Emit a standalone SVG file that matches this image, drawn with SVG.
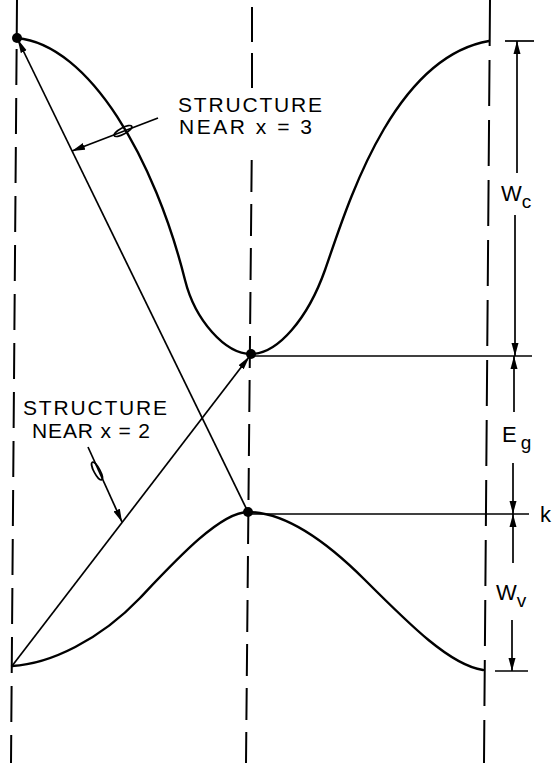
<svg xmlns="http://www.w3.org/2000/svg" width="553" height="763" viewBox="0 0 553 763">
<style>
.curve{fill:none;stroke:#000;stroke-width:2.4;stroke-linecap:round}
.thin{fill:none;stroke:#000;stroke-width:1.7}
.dash{fill:none;stroke:#000;stroke-width:2;stroke-dasharray:36 13}
.lbl{font-family:"Liberation Sans",Arial,sans-serif;font-size:21px;fill:#000}
.sym{font-family:"Liberation Sans",Arial,sans-serif;font-size:22px;fill:#000}
.sub{font-family:"Liberation Sans",Arial,sans-serif;font-size:19px;fill:#000}
</style>
<defs>
<marker id="ah" viewBox="0 0 14 8" refX="13" refY="4" markerWidth="14" markerHeight="8" markerUnits="userSpaceOnUse" orient="auto">
<path d="M0,0.8 L14,4 L0,7.2 Z" fill="#000"/>
</marker>
<marker id="dh" viewBox="0 0 13 8" refX="13" refY="4" markerWidth="13" markerHeight="8" markerUnits="userSpaceOnUse" orient="auto">
<path d="M0,0.5 L13,4 L0,7.5 Z" fill="#000"/>
</marker>
</defs>
<rect width="553" height="763" fill="#fff"/>
<g id="axes">
<line class="dash" x1="17" y1="0" x2="11" y2="763"/>
<path class="thin" style="stroke-width:2" d="M252,7 L252,42 M252,53 L252,88"/>
<line class="dash" x1="251.7" y1="160" x2="246" y2="763" style="stroke-dasharray:32 12"/>
<line class="dash" x1="490" y1="0" x2="484" y2="763" style="stroke-dasharray:46 14"/>
</g>
<g id="conduction-band">
<path class="curve" d="M17,38 C90,45 155,160 185,280 C195,320 225,354 251,354 C278,354 308,318 325,270 C345,213.5 390,58 489,41"/>
<circle cx="17" cy="38" r="5"/>
<circle cx="251" cy="354" r="5"/>
</g>
<g id="valence-band">
<path class="curve" d="M12,666 C50,664 100,640 140,598 C175,561 220,512 248,512 C280,512 320,535 365,580 C410,625 450,665 483,670"/>
<circle cx="248" cy="512" r="5"/>
</g>
<g id="connectors">
<line class="thin" x1="248" y1="512" x2="18" y2="40" marker-end="url(#ah)"/>
<line class="thin" x1="12" y1="666" x2="249" y2="357" marker-end="url(#ah)"/>
<line class="thin" x1="251" y1="356" x2="532" y2="356"/>
<line class="thin" x1="248" y1="514" x2="529" y2="514"/>
<line class="thin" x1="505" y1="41" x2="534" y2="41"/>
<line class="thin" x1="495" y1="671" x2="528" y2="671"/>
<line class="thin" x1="517" y1="173" x2="517" y2="41" marker-end="url(#dh)"/>
<line class="thin" x1="515" y1="215" x2="515" y2="356" marker-end="url(#dh)"/>
<line class="thin" x1="514" y1="412" x2="514" y2="356" marker-end="url(#dh)"/>
<line class="thin" x1="513" y1="463" x2="513" y2="514" marker-end="url(#dh)"/>
<line class="thin" x1="513" y1="563" x2="513" y2="514" marker-end="url(#dh)"/>
<line class="thin" x1="512" y1="620" x2="512" y2="671" marker-end="url(#dh)"/>
<line class="thin" x1="158" y1="118" x2="72" y2="151" marker-end="url(#dh)"/>
<ellipse class="thin" cx="123" cy="131" rx="10" ry="3.2" transform="rotate(-28 123 131)"/>
<line class="thin" x1="88" y1="447" x2="122" y2="522" marker-end="url(#dh)"/>
<ellipse class="thin" cx="97" cy="471" rx="10" ry="3" transform="rotate(62 97 471)"/>
</g>
<g id="label-x3">
<text class="lbl" x="178" y="112" textLength="144" lengthAdjust="spacing">STRUCTURE</text>
<text class="lbl" x="179" y="134" textLength="133" lengthAdjust="spacing">NEAR x = 3</text>
</g>
<g id="label-x2">
<text class="lbl" x="23" y="415" textLength="144" lengthAdjust="spacing">STRUCTURE</text>
<text class="lbl" x="32" y="438" textLength="118" lengthAdjust="spacing">NEAR x = 2</text>
</g>
<g id="label-wc">
<text class="sym" x="501" y="201">W<tspan class="sub" dy="7">c</tspan></text>
</g>
<g id="label-eg">
<text class="sym" x="502" y="442">E<tspan class="sub" dx="4" dy="7">g</tspan></text>
</g>
<g id="label-wv">
<text class="sym" x="496" y="600">W<tspan class="sub" dy="7">v</tspan></text>
</g>
<g id="label-k">
<text class="sym" x="540" y="522">k</text>
</g>
</svg>
